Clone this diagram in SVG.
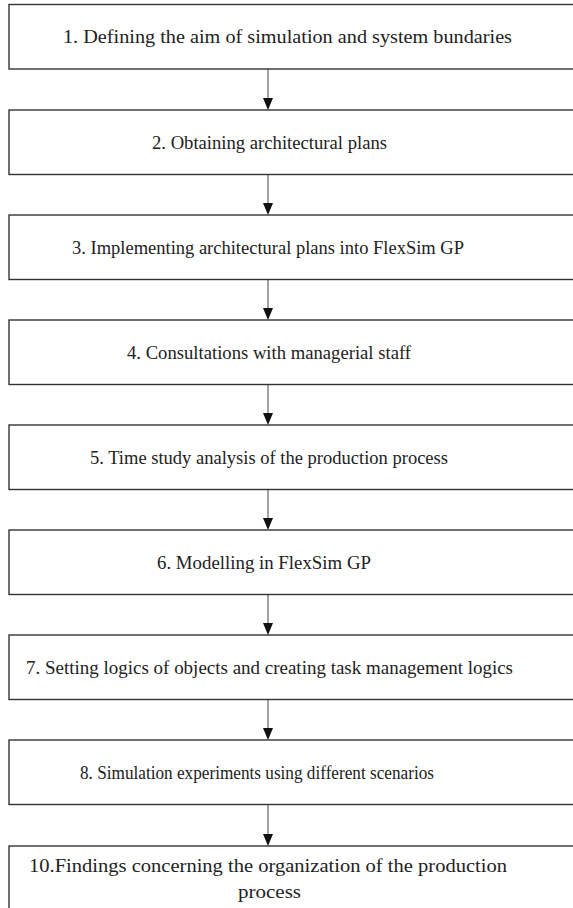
<svg xmlns="http://www.w3.org/2000/svg" width="573" height="908" viewBox="0 0 573 908">
<style>
.box{fill:#fff;stroke:#333;stroke-width:1.4}
.t{font-family:"Liberation Serif","Times New Roman",serif;font-size:18.6px;fill:#222;text-anchor:middle}
.c{stroke:#555;stroke-width:1.1;fill:none}
.h{fill:#111;stroke:none}
</style>
<rect width="573" height="908" fill="#fff"/>
<g id="connectors">
<line class="c" x1="268" y1="69" x2="268" y2="99"/><path class="h" d="M263,98 L273,98 L268,110 Z"/>
<line class="c" x1="268" y1="174" x2="268" y2="204"/><path class="h" d="M263,203 L273,203 L268,215 Z"/>
<line class="c" x1="268" y1="279" x2="268" y2="309"/><path class="h" d="M263,308 L273,308 L268,320 Z"/>
<line class="c" x1="268" y1="384" x2="268" y2="414"/><path class="h" d="M263,413 L273,413 L268,425 Z"/>
<line class="c" x1="268" y1="489" x2="268" y2="519"/><path class="h" d="M263,518 L273,518 L268,530 Z"/>
<line class="c" x1="268" y1="594" x2="268" y2="624"/><path class="h" d="M263,623 L273,623 L268,635 Z"/>
<line class="c" x1="268" y1="699" x2="268" y2="729"/><path class="h" d="M263,728 L273,728 L268,740 Z"/>
<line class="c" x1="268" y1="804" x2="268" y2="835"/><path class="h" d="M263,834 L273,834 L268,846 Z"/>
</g>
<g id="n1"><rect class="box" x="9" y="4.5" width="570" height="64.5"/><text class="t" x="287.5" y="43" font-size="20.2" textLength="449" lengthAdjust="spacingAndGlyphs">1. Defining the aim of simulation and system bundaries</text></g>
<g id="n2"><rect class="box" x="9" y="110" width="570" height="64.5"/><text class="t" x="269.5" y="148.5" textLength="235" lengthAdjust="spacingAndGlyphs">2. Obtaining architectural plans</text></g>
<g id="n3"><rect class="box" x="9" y="215" width="570" height="64.5"/><text class="t" x="268" y="254" textLength="392" lengthAdjust="spacingAndGlyphs">3. Implementing architectural plans into FlexSim GP</text></g>
<g id="n4"><rect class="box" x="9" y="320" width="570" height="64.5"/><text class="t" x="269" y="358.5" textLength="284" lengthAdjust="spacingAndGlyphs">4. Consultations with managerial staff</text></g>
<g id="n5"><rect class="box" x="9" y="425" width="570" height="64.5"/><text class="t" x="269" y="464" textLength="358" lengthAdjust="spacingAndGlyphs">5. Time study analysis of the production process</text></g>
<g id="n6"><rect class="box" x="9" y="530" width="570" height="64.5"/><text class="t" x="264" y="568.5" font-size="18.8" textLength="214" lengthAdjust="spacingAndGlyphs">6. Modelling in FlexSim GP</text></g>
<g id="n7"><rect class="box" x="9" y="635" width="570" height="64.5"/><text class="t" x="269.5" y="674" font-size="19" textLength="487" lengthAdjust="spacingAndGlyphs">7. Setting logics of objects and creating task management logics</text></g>
<g id="n8"><rect class="box" x="9" y="740" width="570" height="64.5"/><text class="t" x="257" y="778.5" font-size="17.4" textLength="354" lengthAdjust="spacingAndGlyphs">8. Simulation experiments using different scenarios</text></g>
<g id="n10"><rect class="box" x="9" y="846" width="570" height="70"/><text class="t" x="268" y="872" font-size="20.5" textLength="478" lengthAdjust="spacingAndGlyphs">10.Findings concerning the organization of the production</text><text class="t" x="269.5" y="898" font-size="20.5" textLength="63" lengthAdjust="spacingAndGlyphs">process</text></g>
</svg>
